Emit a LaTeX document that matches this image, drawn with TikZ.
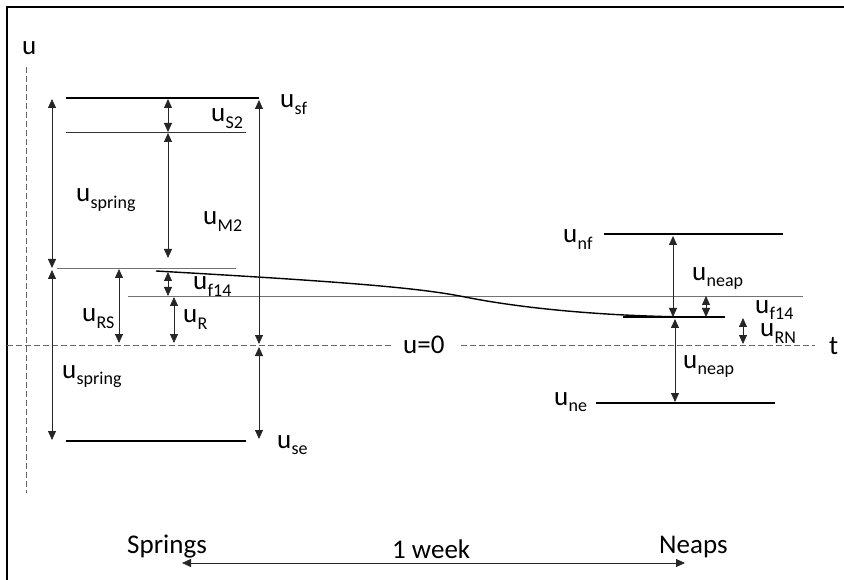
\documentclass[tikz,border=0pt]{standalone}
\usepackage{fontspec}
\setmainfont{Carlito}
\usetikzlibrary{arrows.meta}
\newcommand{\uu}[1]{u\kern0.3pt\raisebox{-6.5pt}{\fontsize{18}{18}\selectfont #1}}
\begin{document}
\begin{tikzpicture}[x=1pt,y=-1pt,
  lab/.style={font=\fontsize{27}{32}\selectfont, inner sep=0pt, anchor=base west},
  heavy/.style={line width=1.6pt, black},
  light/.style={line width=0.9pt, black!55},
  dim/.style={line width=0.8pt, black!85, {Triangle[length=9pt,width=8pt]}-{Triangle[length=9pt,width=8pt]}},
  axisline/.style={dash pattern=on 6pt off 3pt, line width=0.9pt, black!60}
]
\useasboundingbox (0,0) rectangle (844,580);
% frame
\coordinate (f1) at (7,580); \coordinate (f2) at (7,7); \coordinate (f3) at (844,7);
\draw[line width=2pt] (f1) -- (f2) -- (f3);

% axes
\coordinate (ax1) at (7,345); \coordinate (ax2) at (391,345);
\coordinate (ax3) at (461,345); \coordinate (ax4) at (815,345);
\coordinate (ay1) at (26,67); \coordinate (ay2) at (26,493);
\draw[axisline] (ax1) -- (ax2);
\draw[axisline] (ax3) -- (ax4);
\draw[axisline] (ay1) -- (ay2);

% level lines
\coordinate (sf1) at (66,98); \coordinate (sf2) at (259,98);
\coordinate (s21) at (66,132); \coordinate (s22) at (246,132);
\coordinate (m1) at (57,268); \coordinate (m2) at (236,268);
\coordinate (r1) at (128,296); \coordinate (r2) at (803,296);
\coordinate (se1) at (66,441); \coordinate (se2) at (246,441);
\coordinate (nf1) at (604,234); \coordinate (nf2) at (783,234);
\coordinate (ne1) at (596,403); \coordinate (ne2) at (775,403);
\coordinate (nm1) at (623,317); \coordinate (nm2) at (725,317);
\draw[heavy] (sf1) -- (sf2);
\draw[light, black!80] (s21) -- (s22);
\draw[light] (m1) -- (m2);
\draw[light] (r1) -- (r2);
\draw[heavy] (se1) -- (se2);
\draw[heavy] (nf1) -- (nf2);
\draw[heavy] (ne1) -- (ne2);
\draw[heavy] (nm1) -- (nm2);

% mean curve
\coordinate (c0) at (156,271); \coordinate (c1) at (465,297); \coordinate (c2) at (690,317);
\draw[heavy, line width=1.4pt] (c0) .. controls (350,282) and (420,288) .. (c1)
  .. controls (520,308) and (600,316) .. (c2);

% dimension arrows
\coordinate (a1t) at (52,99);  \coordinate (a1b) at (52,268);
\coordinate (a2t) at (52,270); \coordinate (a2b) at (52,440);
\coordinate (a3t) at (168,99); \coordinate (a3b) at (168,132);
\coordinate (a4t) at (168,133); \coordinate (a4b) at (168,258);
\coordinate (a5t) at (168,272); \coordinate (a5b) at (168,296);
\coordinate (a6t) at (174,297); \coordinate (a6b) at (174,343);
\coordinate (a7t) at (119,269); \coordinate (a7b) at (119,343);
\coordinate (a8t) at (259,100); \coordinate (a8b) at (259,344);
\coordinate (a9t) at (259,347); \coordinate (a9b) at (259,439);
\coordinate (b1t) at (673,236); \coordinate (b1b) at (673,317);
\coordinate (b2t) at (706,296); \coordinate (b2b) at (706,317);
\coordinate (b3t) at (743,318); \coordinate (b3b) at (743,344);
\coordinate (b4t) at (675,319); \coordinate (b4b) at (675,402);
\coordinate (w1) at (182,563); \coordinate (w2) at (685,563);
\foreach \p in {a1,a2,a3,a4,a5,a6,a7,a8,a9,b1,b2,b3,b4}
  \draw[dim] (\p t) -- (\p b);
\draw[dim] (w1) -- (w2);

% labels
\node[lab] (lu) at (22,55) {u};
\node[lab] (lsf) at (280,108) {\uu{sf}};
\node[lab] (ls2) at (211,122) {\uu{S2}};
\node[lab] (lsp1) at (76,202) {\uu{spring}};
\node[lab] (lm2) at (203,225) {\uu{M2}};
\node[lab] (lf14a) at (193,290) {\uu{f14}};
\node[lab] (lrs) at (82,322) {\uu{RS}};
\node[lab] (lr) at (183,323) {\uu{R}};
\node[lab] (lsp2) at (62,378) {\uu{spring}};
\node[lab] (lse) at (277,448) {\uu{se}};
\node[lab] (lnf) at (563,243) {\uu{nf}};
\node[lab] (lnp1) at (692,280) {\uu{neap}};
\node[lab] (lf14b) at (755,313) {\uu{f14}};
\node[lab] (lrn) at (760,337) {\uu{RN}};
\node[lab] (lnp2) at (683,368) {\uu{neap}};
\node[lab] (lne) at (554,405) {\uu{ne}};
\node[lab] (lzero) at (403,353) {u=0};
\node[lab] (lt) at (829,355) {t};
\node[lab] (lspr) at (127,553) {Springs};
\node[lab] (lnps) at (659,553) {Neaps};
\node[lab] (lwk) at (392,558) {1 week};
\end{tikzpicture}
\end{document}
